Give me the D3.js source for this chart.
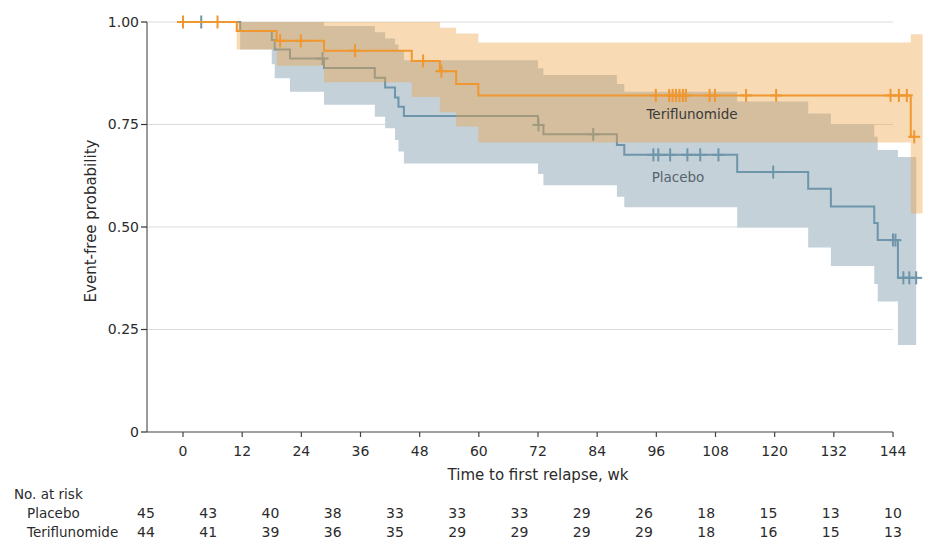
<!DOCTYPE html>
<html>
<head>
<meta charset="utf-8">
<script src="https://cdn.jsdelivr.net/npm/d3@7"></script>
<style>
  html, body { margin: 0; padding: 0; background: #fff; }
  svg { display: block; font-family: "DejaVu Sans", "Noto Sans", sans-serif; }
</style>
</head>
<body>
<svg id="chart" width="930" height="557"></svg>
<script>
// ---- Data ----
const placeboTimes = [0, 11.6, 18.0, 18.6, 21.7, 28.6, 38.9, 41.0, 43.0, 43.7, 44.8, 72.0, 73.1, 88.0, 89.5, 112.4, 126.8, 131.4, 140.2, 140.9, 145.0];
const placeboSurv  = [1, 0.978, 0.956, 0.933, 0.911, 0.888, 0.864, 0.840, 0.816, 0.793, 0.771, 0.749, 0.726, 0.700, 0.676, 0.634, 0.593, 0.550, 0.510, 0.468, 0.376];
const placeboUpper = [1, 1, 1, 1, 1, 0.99, 0.975, 0.96, 0.945, 0.93, 0.907, 0.887, 0.871, 0.849, 0.830, 0.806, 0.777, 0.751, 0.720, 0.688, 0.671];
const placeboLower = [1, 0.933, 0.897, 0.863, 0.830, 0.798, 0.769, 0.741, 0.712, 0.684, 0.655, 0.629, 0.602, 0.574, 0.548, 0.499, 0.450, 0.405, 0.361, 0.318, 0.212];
const placeboBandEnd = 148.7;
const placeboCensor = [3.7, 28.3, 72.1, 83.2, 95.4, 96.4, 98.8, 102.3, 104.9, 108.6, 119.7, 144.0, 144.5, 146.1, 147.3, 148.7];

const teriTimes = [0, 10.9, 19.0, 28.6, 46.4, 52.1, 55.4, 59.9, 147.6];
const teriSurv  = [1, 0.978, 0.954, 0.930, 0.905, 0.880, 0.849, 0.821, 0.720];
const teriUpper = [1, 1, 1, 1, 1, 0.986, 0.972, 0.950, 0.970];
const teriLower = [1, 0.933, 0.893, 0.853, 0.817, 0.780, 0.745, 0.706, 0.533];
const teriBandEnd = 150.0;
const teriCensor = [0, 7.0, 19.7, 23.9, 34.9, 48.7, 52.4, 95.9, 98.6, 99.3, 100.0, 100.7, 101.4, 102.0, 106.8, 107.9, 114.2, 120.3, 143.5, 145.2, 146.8, 148.3];

const xTicks = [0, 12, 24, 36, 48, 60, 72, 84, 96, 108, 120, 132, 144];
const yTicks = [0, 0.25, 0.5, 0.75, 1.0];
const riskWeeks = [0, 12, 24, 36, 48, 60, 72, 84, 96, 108, 120, 132, 144];
const placeboRisk = [45, 43, 40, 38, 33, 33, 33, 29, 26, 18, 15, 13, 10];
const teriRisk    = [44, 41, 39, 36, 35, 29, 29, 29, 29, 18, 16, 15, 13];

// ---- Layout ----
const svg = d3.select("#chart");
const FS_TICK = 14, FS_TITLE = 15, FS_LABEL = 13.5;
const axisLeftX = 147;
const x = d3.scaleLinear().domain([0, 144]).range([183, 893]);
const y = d3.scaleLinear().domain([0, 1]).range([432, 22]);
const riskX = d3.scaleLinear().domain([0, 144]).range([146, 893]);

const ORANGE = "#f0972f";
const BLUE = "#6e95a9";
const TEXT = "#2b2b2b";

// gridlines
svg.append("g").selectAll("line").data(yTicks.filter(d => d > 0)).join("line")
  .attr("x1", axisLeftX).attr("x2", x(144))
  .attr("y1", d => y(d)).attr("y2", d => y(d))
  .attr("stroke", "#dcdcdc").attr("stroke-width", 1);

function bandData(times, lo, hi, end) {
  const pts = times.map((t, i) => ({t, lo: lo[i], hi: hi[i]}));
  pts.push({t: end, lo: lo[lo.length - 1], hi: hi[hi.length - 1]});
  return pts;
}
function lineData(times, s, end) {
  const pts = times.map((t, i) => ({t, s: s[i]}));
  pts.push({t: end, s: s[s.length - 1]});
  return pts;
}
function stepVal(times, s, t) {
  let v = s[0];
  for (let i = 0; i < times.length; i++) if (times[i] <= t) v = s[i];
  return v;
}

const area = d3.area().curve(d3.curveStepAfter)
  .x(d => x(d.t)).y0(d => y(d.lo)).y1(d => y(d.hi));
const line = d3.line().curve(d3.curveStepAfter)
  .x(d => x(d.t)).y(d => y(d.s));

function censors(times, s, cens, color) {
  const g = svg.append("g").attr("stroke", color).attr("stroke-width", 2);
  cens.forEach(c => {
    const cx = x(c), cy = y(stepVal(times, s, c));
    g.append("line").attr("x1", cx).attr("x2", cx).attr("y1", cy - 6.5).attr("y2", cy + 6.5);
    g.append("line").attr("x1", cx - 6).attr("x2", cx + 6).attr("y1", cy).attr("y2", cy);
  });
}

// Placebo band + line
svg.append("path").datum(bandData(placeboTimes, placeboLower, placeboUpper, placeboBandEnd))
  .attr("d", area).attr("fill", "#c4d1d9");
svg.append("path").datum(lineData(placeboTimes, placeboSurv, d3.max(placeboCensor)))
  .attr("d", line).attr("fill", "none").attr("stroke", BLUE).attr("stroke-width", 2);
censors(placeboTimes, placeboSurv, placeboCensor, BLUE);

// Teriflunomide band (translucent, over placebo) + line
svg.append("path").datum(bandData(teriTimes, teriLower, teriUpper, teriBandEnd))
  .attr("d", area).attr("fill", "#eea244").attr("fill-opacity", 0.4);
svg.append("path").datum(lineData(teriTimes, teriSurv, d3.max(teriCensor)))
  .attr("d", line).attr("fill", "none").attr("stroke", ORANGE).attr("stroke-width", 2);
censors(teriTimes, teriSurv, teriCensor, ORANGE);

// series labels
svg.append("text").attr("x", 692).attr("y", 114).attr("dy", "0.35em").attr("text-anchor", "middle")
  .attr("font-size", FS_LABEL).attr("fill", "#3a3a3a").text("Teriflunomide");
svg.append("text").attr("x", 678).attr("y", 177).attr("dy", "0.35em").attr("text-anchor", "middle")
  .attr("font-size", FS_LABEL).attr("fill", "#56646e").text("Placebo");

// Y axis
const yAxisG = svg.append("g");
yAxisG.append("line").attr("x1", axisLeftX).attr("x2", axisLeftX).attr("y1", y(1)).attr("y2", y(0))
  .attr("stroke", "#9a9a9a").attr("stroke-width", 2);
yAxisG.selectAll("line.tick").data(yTicks).join("line").attr("class", "tick")
  .attr("x1", axisLeftX - 6).attr("x2", axisLeftX).attr("y1", d => y(d)).attr("y2", d => y(d))
  .attr("stroke", "#333").attr("stroke-width", 1.2);
yAxisG.selectAll("text").data(yTicks).join("text")
  .attr("x", axisLeftX - 8).attr("y", d => y(d)).attr("dy", "0.35em")
  .attr("text-anchor", "end").attr("font-size", FS_TICK).attr("fill", TEXT)
  .text(d => d === 0 ? "0" : d3.format(".2f")(d));
svg.append("text").attr("transform", `translate(91,221) rotate(-90)`).attr("dy", "0.35em")
  .attr("text-anchor", "middle").attr("font-size", FS_TITLE).attr("fill", TEXT).text("Event-free probability");

// X axis
const xAxisG = svg.append("g");
xAxisG.append("line").attr("x1", axisLeftX).attr("x2", x(144)).attr("y1", y(0)).attr("y2", y(0))
  .attr("stroke", "#444").attr("stroke-width", 1.2);
xAxisG.selectAll("line.tick").data(xTicks).join("line").attr("class", "tick")
  .attr("x1", d => x(d)).attr("x2", d => x(d)).attr("y1", y(0)).attr("y2", y(0) + 5)
  .attr("stroke", "#444").attr("stroke-width", 1.2);
xAxisG.selectAll("text").data(xTicks).join("text")
  .attr("x", d => x(d)).attr("y", 451).attr("dy", "0.35em")
  .attr("text-anchor", "middle").attr("font-size", FS_TICK).attr("fill", TEXT).text(d => d);
svg.append("text").attr("x", x(72)).attr("y", 475).attr("dy", "0.35em")
  .attr("text-anchor", "middle").attr("font-size", FS_TITLE).attr("fill", TEXT).text("Time to first relapse, wk");

// Risk table
svg.append("text").attr("x", 14).attr("y", 494).attr("dy", "0.35em")
  .attr("font-size", FS_LABEL).attr("fill", TEXT).text("No. at risk");
svg.append("text").attr("x", 27).attr("y", 513).attr("dy", "0.35em")
  .attr("font-size", FS_LABEL).attr("fill", TEXT).text("Placebo");
svg.append("text").attr("x", 27).attr("y", 532).attr("dy", "0.35em")
  .attr("font-size", FS_LABEL).attr("fill", TEXT).text("Teriflunomide");
svg.append("g").selectAll("text").data(riskWeeks).join("text")
  .attr("x", d => riskX(d)).attr("y", 513).attr("dy", "0.35em").attr("text-anchor", "middle")
  .attr("font-size", FS_TICK).attr("fill", TEXT).text((d, i) => placeboRisk[i]);
svg.append("g").selectAll("text").data(riskWeeks).join("text")
  .attr("x", d => riskX(d)).attr("y", 532).attr("dy", "0.35em").attr("text-anchor", "middle")
  .attr("font-size", FS_TICK).attr("fill", TEXT).text((d, i) => teriRisk[i]);
</script>
</body>
</html>
